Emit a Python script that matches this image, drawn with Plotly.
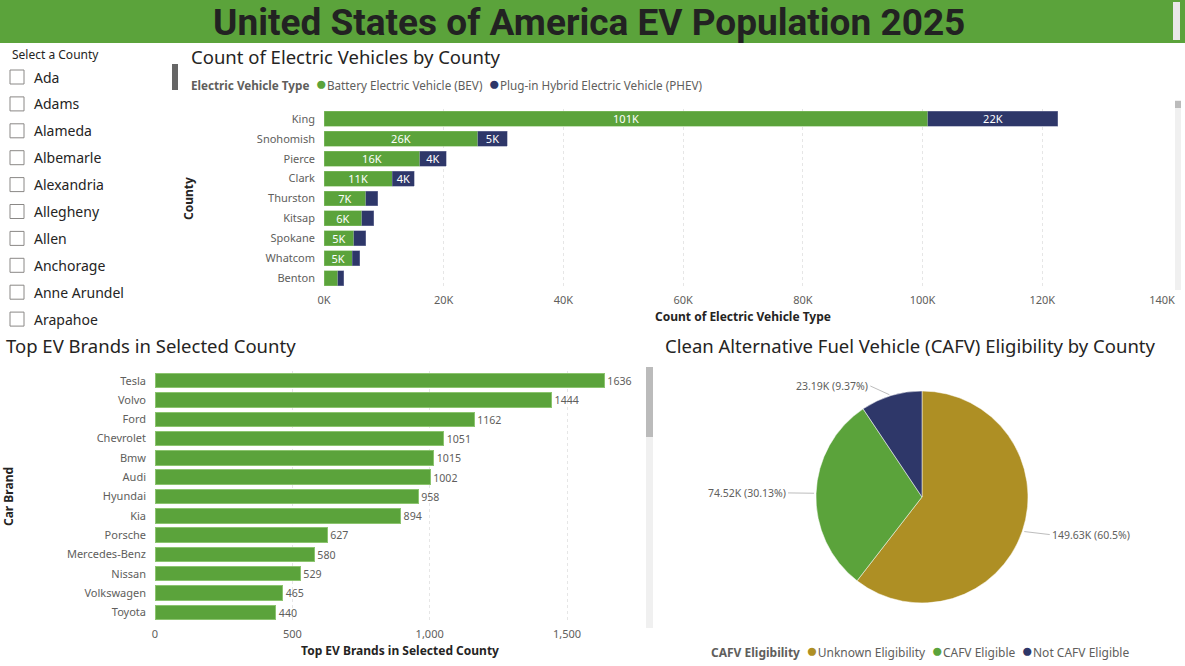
import math
import plotly.graph_objects as go

# ---------------- data ----------------
counties_list = ["Ada", "Adams", "Alameda", "Albemarle", "Alexandria",
                 "Allegheny", "Allen", "Anchorage", "Anne Arundel", "Arapahoe"]

top_counties = ["King", "Snohomish", "Pierce", "Clark", "Thurston",
                "Kitsap", "Spokane", "Whatcom", "Benton"]
bev_k = [100.9, 25.7, 16.0, 11.4, 7.0, 6.3, 5.0, 4.7, 2.3]
phev_k = [21.7, 4.9, 4.4, 3.7, 2.0, 2.0, 2.0, 1.3, 1.0]
ev_types = ["Battery Electric Vehicle (BEV)", "Plug-in Hybrid Electric Vehicle (PHEV)"]
top_ticks_k = [0, 20, 40, 60, 80, 100, 120, 140]

brands = ["Tesla", "Volvo", "Ford", "Chevrolet", "Bmw", "Audi", "Hyundai",
          "Kia", "Porsche", "Mercedes-Benz", "Nissan", "Volkswagen", "Toyota"]
brand_counts = [1636, 1444, 1162, 1051, 1015, 1002, 958, 894, 627, 580, 529, 465, 440]

cafv_labels = ["Unknown Eligibility", "CAFV Eligible", "Not CAFV Eligible"]
cafv_values_k = [149.634, 74.522, 23.186]

# ---------------- style ----------------
GREEN = "#5BA33B"
NAVY = "#2E3769"
GOLD = "#AE8F24"
DARK = "#252423"
GRAY = "#605E5C"
FONT = "Noto Sans"
W, H = 1185, 666
NB = "\u00a0"


def px(x):
    return x / W


def py(y):
    return 1 - y / H


fig = go.Figure()

# top stacked bar chart
bev_text = [f"{v:.0f}K" if v >= 3.5 else "" for v in bev_k]
phev_text = [f"{v:.0f}K" if v >= 3.5 else "" for v in phev_k]
for vals, txt, col, lcol, nm in [(bev_k, bev_text, GREEN, "#8CC46F", ev_types[0]),
                                 (phev_k, phev_text, NAVY, "#7F86A8", ev_types[1])]:
    fig.add_trace(go.Bar(y=top_counties, x=vals, orientation="h", name=nm,
                         marker=dict(color=col, line=dict(color=lcol, width=0.5)),
                         text=txt, textposition="inside", insidetextanchor="middle",
                         textangle=0, constraintext="none",
                         textfont=dict(color="white", size=11, family=FONT),
                         showlegend=False, xaxis="x", yaxis="y"))

# bottom-left bar chart
fig.add_trace(go.Bar(y=brands, x=brand_counts, orientation="h", name="brands",
                     marker=dict(color=GREEN, line=dict(color="#8CC46F", width=1)),
                     text=[str(v) for v in brand_counts], textposition="outside",
                     textfont=dict(color=GRAY, size=11, family=FONT), cliponaxis=False,
                     showlegend=False, xaxis="x2", yaxis="y2"))

# pie (labels drawn as annotations with leader lines below)
cafv_colors = [GOLD, GREEN, NAVY]
PIE_CX, PIE_CY, PIE_R = 922, 497, 106
fig.add_trace(go.Pie(labels=cafv_labels, values=cafv_values_k, sort=False, direction="clockwise",
                     rotation=0, marker=dict(colors=cafv_colors, line=dict(color="white", width=0.5)),
                     textposition="none", showlegend=False,
                     domain=dict(x=[px(PIE_CX - 130), px(PIE_CX + 130)],
                                 y=[py(PIE_CY + PIE_R), py(PIE_CY - PIE_R)])))

fig.update_layout(
    width=W, height=H, margin=dict(l=0, r=0, t=0, b=0, autoexpand=False),
    paper_bgcolor="white", plot_bgcolor="white",
    font=dict(family=FONT, color=GRAY, size=11),
    barmode="stack", bargap=0.25, showlegend=False,
    xaxis=dict(domain=[px(324), px(1162)], range=[0, 140], anchor="y", automargin=False,
               tickmode="array", tickvals=top_ticks_k, ticktext=[f"{v}K" for v in top_ticks_k],
               showgrid=True, gridcolor="#E6E6E6", griddash="dot", zeroline=False,
               tickfont=dict(size=11, color=GRAY), ticks="", ticklabelstandoff=4,
               title=dict(text="<b>Count of Electric Vehicle Type</b>", font=dict(size=12, color=DARK), standoff=6)),
    yaxis=dict(domain=[py(288), py(109)], autorange="reversed", anchor="x", automargin=False,
               tickfont=dict(size=11, color=GRAY), ticks="", ticklabelstandoff=8,
               title=dict(text="<b>County</b>", font=dict(size=12, color=DARK), standoff=60)),
    xaxis2=dict(domain=[px(155), px(645)], range=[0, 1784], anchor="y2", automargin=False,
                tickvals=[0, 500, 1000, 1500], tickformat=",",
                showgrid=True, gridcolor="#E6E6E6", griddash="dot", zeroline=False,
                tickfont=dict(size=11, color=GRAY), ticks="", ticklabelstandoff=4,
                title=dict(text="<b>Top EV Brands in Selected County</b>", font=dict(size=12, color=DARK), standoff=6)),
    yaxis2=dict(domain=[py(622), py(371)], autorange="reversed", anchor="x2", automargin=False,
                tickfont=dict(size=11, color=GRAY), ticks="", ticklabelstandoff=8,
                title=dict(text="<b>Car Brand</b>", font=dict(size=12, color=DARK), standoff=62)),
)

shapes = []
annotations = []
# header bar
shapes.append(dict(type="rect", xref="paper", yref="paper", x0=0, x1=1, y0=py(43), y1=1,
                   fillcolor=GREEN, line=dict(width=0), layer="below"))
shapes.append(dict(type="rect", xref="paper", yref="paper", x0=px(1173), x1=px(1180), y0=py(40), y1=py(2),
                   fillcolor="#E8E8E8", line=dict(width=0)))
annotations.append(dict(text="<b>United States of America EV Population 2025</b>", xref="paper", yref="paper",
                        x=px(589), y=py(22), xanchor="center", yanchor="middle", showarrow=False,
                        font=dict(size=37, color="#222222", family="Roboto")))

# chart titles
for txt, x, y in [("Count of Electric Vehicles by County", 189, 56.5),
                  ("Top EV Brands in Selected County", 4, 345),
                  ("Clean Alternative Fuel Vehicle (CAFV) Eligibility by County", 663, 345)]:
    annotations.append(dict(text=txt, xref="paper", yref="paper", x=px(x), y=py(y),
                            xanchor="left", yanchor="middle", showarrow=False,
                            font=dict(size=18.5, color=DARK, family=FONT)))


# legends (built from the series names / colours)
def legend_html(title, names, colors):
    parts = [f"<b>{title}</b>{NB}{NB}"]
    for n, c in zip(names, colors):
        parts.append(f"<span style='color:{c};font-size:19px'>●</span>{n}{NB}{NB}")
    return "".join(parts).rstrip(NB)


annotations.append(dict(text=legend_html("Electric Vehicle Type", ev_types, [GREEN, NAVY]),
                        xref="paper", yref="paper", x=px(189), y=py(83), xanchor="left", yanchor="middle",
                        showarrow=False, font=dict(size=11.7, color=GRAY, family=FONT)))
annotations.append(dict(text=legend_html("CAFV Eligibility", cafv_labels, cafv_colors),
                        xref="paper", yref="paper", x=px(920), y=py(650), xanchor="center", yanchor="middle",
                        showarrow=False, font=dict(size=12, color=GRAY, family=FONT)))

# pie data labels with leader lines, placed from each slice's mid angle
total = sum(cafv_values_k)
cum = 0.0
for lab, v in zip(cafv_labels, cafv_values_k):
    frac = v / total
    theta = 2 * math.pi * (cum + frac / 2)
    cum += frac
    sx, sy = math.sin(theta), -math.cos(theta)      # screen direction (y down)
    ex, ey = PIE_CX + PIE_R * sx, PIE_CY + PIE_R * sy  # point on the rim
    side = 1 if sx >= 0 else -1
    dx = sx * 10 + side * 18
    dy = sy * 10
    pct = f"{frac * 100:.2f}".rstrip("0").rstrip(".")
    annotations.append(dict(text=f"{v:.2f}K ({pct}%)", xref="paper", yref="paper",
                            x=px(ex), y=py(ey), ax=dx, ay=dy, showarrow=True, arrowhead=0,
                            arrowwidth=1, arrowcolor="#BDBDBD", standoff=2,
                            xanchor="left" if side > 0 else "right", yanchor="middle",
                            font=dict(size=10.5, color=GRAY, family=FONT)))

# slicer
annotations.append(dict(text="Select a County", xref="paper", yref="paper", x=px(10), y=py(55),
                        xanchor="left", yanchor="middle", showarrow=False,
                        font=dict(size=12, color=DARK, family=FONT)))
item_y0, item_dy = 77, 26.9
for i, c in enumerate(counties_list):
    yc = item_y0 + i * item_dy
    shapes.append(dict(type="rect", xref="paper", yref="paper", x0=px(10), x1=px(24),
                       y0=py(yc + 7), y1=py(yc - 7), line=dict(color="#8A8886", width=1), fillcolor="white"))
    annotations.append(dict(text=c, xref="paper", yref="paper", x=px(32), y=py(yc),
                            xanchor="left", yanchor="middle", showarrow=False,
                            font=dict(size=14, color=DARK, family=FONT)))
shapes.append(dict(type="rect", xref="paper", yref="paper", x0=px(172), x1=px(178), y0=py(90), y1=py(64),
                   fillcolor="#666666", line=dict(width=0)))

# scrollbars
shapes.append(dict(type="rect", xref="paper", yref="paper", x0=px(1175), x1=px(1181), y0=py(290), y1=py(100),
                   fillcolor="#F0F0F0", line=dict(width=0)))
shapes.append(dict(type="rect", xref="paper", yref="paper", x0=px(1175), x1=px(1181), y0=py(108), y1=py(101),
                   fillcolor="#BBBBBB", line=dict(width=0)))
shapes.append(dict(type="rect", xref="paper", yref="paper", x0=px(646), x1=px(653), y0=py(628), y1=py(367),
                   fillcolor="#F0F0F0", line=dict(width=0)))
shapes.append(dict(type="rect", xref="paper", yref="paper", x0=px(646), x1=px(653), y0=py(437), y1=py(367),
                   fillcolor="#BBBBBB", line=dict(width=0)))

fig.update_layout(shapes=shapes, annotations=annotations)
fig.write_html("out.html", config={"displayModeBar": False},
               post_script="document.body.style.margin='0px';document.body.style.overflow='hidden';")
